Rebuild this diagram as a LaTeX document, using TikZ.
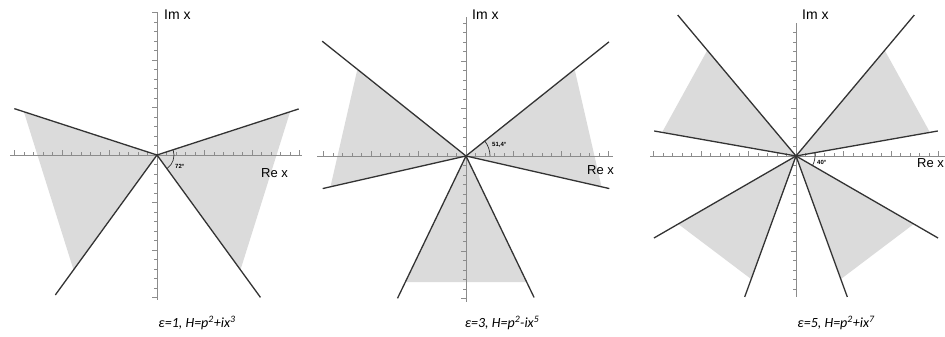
\documentclass[tikz,border=0pt]{standalone}
\usepackage{fontspec}
\setmainfont{Carlito}
\newfontfamily\labfont{Liberation Sans}
\begin{document}
\begin{tikzpicture}[x=1pt,y=1pt,
  axisline/.style={draw=black!45, line width=0.8pt},
  rayline/.style={draw=black!80, line width=1.3pt},
  wedgefill/.style={fill=black!14},
  tickline/.style={draw=black!45, line width=0.5pt},
  anglearc/.style={draw=black!80, line width=0.7pt},
  axlabel/.style={font=\labfont\fontsize{14}{14}\selectfont, inner sep=0pt, anchor=west},
  relabel/.style={font=\labfont\fontsize{13}{13}\selectfont, inner sep=0pt, anchor=west},
  anglabel/.style={font=\labfont\bfseries\fontsize{6}{6}\selectfont, inner sep=0pt, anchor=west},
  caption/.style={font=\itshape\fontsize{14}{14}\selectfont, inner sep=0pt}]
\useasboundingbox (0,0) rectangle (945,337);

% ---------- Panel 1 ----------
\begin{scope}[shift={(157,182)}]
  \fill[wedgefill] (0,0) -- (18:140) -- (-54:142) -- cycle;
  \fill[wedgefill] (0,0) -- (162:140) -- (234:142) -- cycle;
  \draw[axisline] (-147,0) -- (145,0);
  \draw[axisline] (0,-145) -- (0,143);
  \foreach \i in {-15,...,15}{
    \draw[tickline] (\i*9.5,0) -- (\i*9.5,3);
    \draw[tickline] (-3,\i*9.5) -- (0,\i*9.5);}
  \foreach \i in {-15,-10,-5,5,10,15}{
    \draw[tickline] (\i*9.5,0) -- (\i*9.5,5);
    \draw[tickline] (-5,\i*9.5) -- (0,\i*9.5);}
  \coordinate (o1) at (0,0);
  \draw[rayline] (o1) -- (18:149);
  \draw[rayline] (o1) -- (162:150);
  \draw[rayline] (o1) -- (234:173);
  \draw[rayline] (o1) -- (306:176);
  \draw[anglearc] (18:17) arc[start angle=18, end angle=-54, radius=17];
  \node[anglabel] (a1) at (18,-11) {72°};
  \node[axlabel] (im1) at (7,140) {Im x};
  \node[relabel] (re1) at (104,-18) {Re x};
\end{scope}
\node[caption] (c1) at (197,14) {ε=1, H=p\textsuperscript{2}+ix\textsuperscript{3}};

% ---------- Panel 2 ----------
\begin{scope}[shift={(466,181)}]
  \fill[wedgefill] (0,0) -- (38.6:139) -- (-12.8:139) -- cycle;
  \fill[wedgefill] (0,0) -- (141.4:139) -- (192.8:139) -- cycle;
  \fill[wedgefill] (0,0) -- (244.3:140) -- (295.7:140) -- cycle;
  \draw[axisline] (-149,0) -- (147,0);
  \draw[axisline] (0,-146) -- (0,139);
  \foreach \i in {-15,...,15}{
    \draw[tickline] (\i*9.5,0) -- (\i*9.5,3);}
  \foreach \i in {-15,...,14}{
    \draw[tickline] (-3,\i*9.5) -- (0,\i*9.5);}
  \foreach \i in {-15,-10,-5,5,10,15}{
    \draw[tickline] (\i*9.5,0) -- (\i*9.5,5);}
  \foreach \i in {-15,-10,-5,5,10}{
    \draw[tickline] (-5,\i*9.5) -- (0,\i*9.5);}
  \coordinate (o2) at (0,0);
  \draw[rayline] (o2) -- (38.6:183);
  \draw[rayline] (o2) -- (141.4:184);
  \draw[rayline] (o2) -- (192.8:147);
  \draw[rayline] (o2) -- (-12.8:147);
  \draw[rayline] (o2) -- (244.3:158);
  \draw[rayline] (o2) -- (295.7:157);
  \draw[anglearc] (24,0) arc[start angle=0, end angle=38.6, radius=24];
  \node[anglabel] (a2) at (26,11) {51,4°};
  \node[axlabel] (im2) at (6,141) {Im x};
  \node[relabel] (re2) at (121,-14) {Re x};
\end{scope}
\node[caption] (c2) at (502,14) {ε=3, H=p\textsuperscript{2}-ix\textsuperscript{5}};

% ---------- Panel 3 ----------
\begin{scope}[shift={(796,181)}]
  \fill[wedgefill] (0,0) -- (50:138) -- (10:136) -- cycle;
  \fill[wedgefill] (0,0) -- (130:138) -- (170:136) -- cycle;
  \fill[wedgefill] (0,0) -- (210:136) -- (250:131) -- cycle;
  \fill[wedgefill] (0,0) -- (330:136) -- (290:131) -- cycle;
  \draw[axisline] (-146,0) -- (150,0);
  \draw[axisline] (0,-141) -- (0,133);
  \foreach \i in {-15,...,15}{
    \draw[tickline] (\i*9.5,0) -- (\i*9.5,3);}
  \foreach \i in {-14,...,13}{
    \draw[tickline] (-3,\i*9.5) -- (0,\i*9.5);}
  \foreach \i in {-15,-10,-5,5,10,15}{
    \draw[tickline] (\i*9.5,0) -- (\i*9.5,5);}
  \foreach \i in {-10,-5,5,10}{
    \draw[tickline] (-5,\i*9.5) -- (0,\i*9.5);}
  \coordinate (o3) at (0,0);
  \draw[rayline] (o3) -- (50:184);
  \draw[rayline] (o3) -- (130:184);
  \draw[rayline] (o3) -- (10:144);
  \draw[rayline] (o3) -- (170:144);
  \draw[rayline] (o3) -- (210:164);
  \draw[rayline] (o3) -- (330:164);
  \draw[rayline] (o3) -- (250:150);
  \draw[rayline] (o3) -- (290:150);
  \draw[anglearc] (10:19) arc[start angle=10, end angle=-30, radius=19];
  \node[anglabel] (a3) at (21,-6) {40°};
  \node[axlabel] (im3) at (6,141) {Im x};
  \node[relabel] (re3) at (121,-7) {Re x};
\end{scope}
\node[caption] (c3) at (836,14) {ε=5, H=p\textsuperscript{2}+ix\textsuperscript{7}};
\end{tikzpicture}
\end{document}
